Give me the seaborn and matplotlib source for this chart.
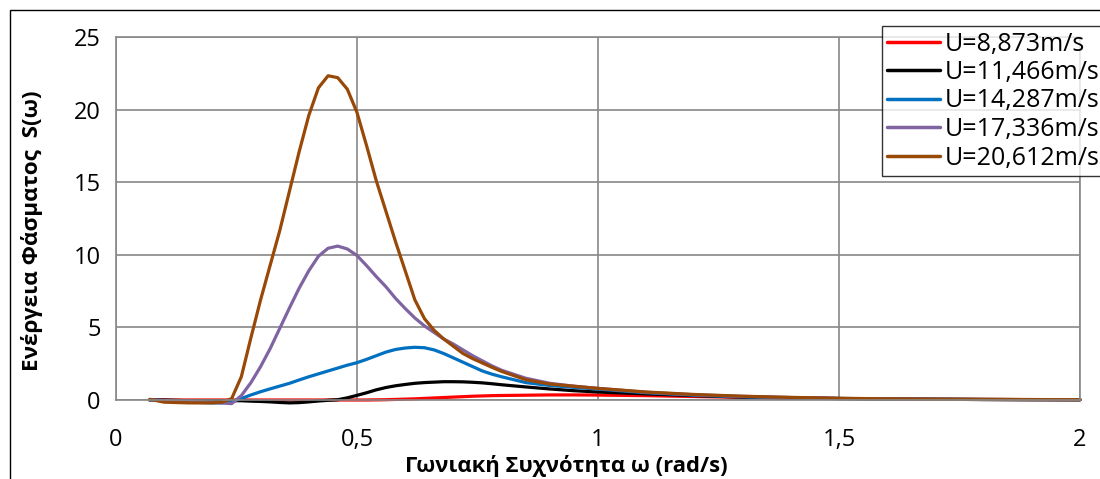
import numpy as np
import pandas as pd
import matplotlib
matplotlib.use("Agg")
import matplotlib.pyplot as plt
import matplotlib.patches as mpatches
import seaborn as sns

omega = [0.07, 0.10, 0.15, 0.20, 0.22,
         0.24, 0.26, 0.28, 0.30, 0.32, 0.34, 0.36, 0.38, 0.40, 0.42, 0.44, 0.46, 0.48, 0.50,
         0.52, 0.54, 0.56, 0.58, 0.60, 0.62, 0.64, 0.66, 0.68, 0.70, 0.72, 0.74, 0.76, 0.78, 0.80,
         0.85, 0.90, 0.95, 1.00, 1.10, 1.20, 1.30, 1.40, 1.50, 1.60, 1.70, 1.80, 1.90, 2.00]

s_8873 = [0.0, 0.0, 0.0, 0.0, 0.0,
          0.0, 0.0, 0.0, 0.0, 0.0, 0.0, 0.0, 0.0, 0.0, 0.0, 0.0, 0.0, 0.0, 0.0,
          0.0, 0.01, 0.02, 0.04, 0.06, 0.08, 0.11, 0.14, 0.17, 0.2, 0.23, 0.26, 0.28, 0.3, 0.31,
          0.33, 0.35, 0.35, 0.34, 0.3, 0.24, 0.18, 0.13, 0.1, 0.07, 0.05, 0.04, 0.03, 0.02]

s_11466 = [0.0, 0.0, -0.05, -0.05, -0.05,
           -0.05, -0.05, -0.08, -0.1, -0.13, -0.17, -0.2, -0.18, -0.13, -0.07, -0.02, 0.02, 0.15, 0.32,
           0.5, 0.7, 0.86, 0.98, 1.07, 1.15, 1.2, 1.23, 1.26, 1.26, 1.25, 1.22, 1.18, 1.12, 1.05,
           0.9, 0.76, 0.64, 0.55, 0.42, 0.3, 0.2, 0.14, 0.1, 0.07, 0.05, 0.035, 0.025, 0.02]

s_14287 = [0.0, -0.05, -0.15, -0.2, -0.2,
           -0.12, 0.1, 0.35, 0.57, 0.77, 0.96, 1.15, 1.38, 1.6, 1.8, 2.0, 2.2, 2.4, 2.57,
           2.8, 3.05, 3.3, 3.48, 3.58, 3.63, 3.6, 3.45, 3.2, 2.9, 2.6, 2.3, 2.0, 1.78, 1.6,
           1.2, 1.0, 0.87, 0.75, 0.5, 0.33, 0.22, 0.15, 0.1, 0.07, 0.05, 0.035, 0.025, 0.02]

s_17336 = [0.0, -0.05, -0.1, -0.15, -0.2,
           -0.25, 0.3, 1.2, 2.3, 3.55, 4.95, 6.35, 7.7, 8.9, 9.9, 10.45, 10.6, 10.4, 9.95,
           9.25, 8.5, 7.8, 7.0, 6.3, 5.65, 5.1, 4.65, 4.2, 3.85, 3.45, 3.05, 2.7, 2.35, 2.05,
           1.5, 1.15, 0.95, 0.8, 0.53, 0.36, 0.25, 0.17, 0.11, 0.07, 0.05, 0.035, 0.025, 0.02]

s_20612 = [0.05, -0.15, -0.2, -0.2, -0.15,
           0.1, 1.6, 4.3, 6.9, 9.3, 11.7, 14.4, 17.1, 19.6, 21.5, 22.33, 22.2, 21.4, 19.8,
           17.5, 15.1, 13.0, 10.9, 8.9, 6.9, 5.6, 4.8, 4.2, 3.7, 3.2, 2.85, 2.55, 2.25, 1.97,
           1.4, 1.1, 0.95, 0.8, 0.55, 0.38, 0.26, 0.18, 0.12, 0.08, 0.06, 0.04, 0.03, 0.02]

labels = ["U=8,873m/s", "U=11,466m/s", "U=14,287m/s", "U=17,336m/s", "U=20,612m/s"]
colors = ["#FF0000", "#000000", "#0070C0", "#8064A2", "#984807"]
series = [s_8873, s_11466, s_14287, s_17336, s_20612]

xticks = [0, 0.5, 1, 1.5, 2]
xticklabels = ["0", "0,5", "1", "1,5", "2"]
yticks = [0, 5, 10, 15, 20, 25]

sns.set_style("white")
plt.rcParams["font.family"] = ["Open Sans", "DejaVu Sans"]
plt.rcParams["text.color"] = "black"
plt.rcParams["axes.labelcolor"] = "black"

fig = plt.figure(figsize=(11, 4.79), dpi=100)
ax = fig.add_axes([116 / 1100, 1 - 400 / 479, 964 / 1100, 363 / 479])

for vals, lab, col in zip(series, labels, colors):
    df = pd.DataFrame({"omega": omega, "S": vals})
    sns.lineplot(data=df, x="omega", y="S", ax=ax, color=col, linewidth=2.3,
                 label=lab, sort=False)

for ln in ax.lines:
    ln.set_clip_on(False)

ax.set_xlim(0, 2)
ax.set_ylim(0, 25)
ax.set_xticks(xticks)
ax.set_xticklabels(xticklabels)
ax.set_yticks(yticks)
ax.grid(True, color="#888888", linewidth=1.2)
ax.set_axisbelow(True)
for sp in ax.spines.values():
    sp.set_color("#888888")
    sp.set_linewidth(1.2)
ax.tick_params(axis="both", length=0, labelsize=17, colors="black")
ax.tick_params(axis="x", pad=20)
ax.tick_params(axis="y", pad=11)

ax.set_xlabel("Γωνιακή Συχνότητα ω (rad/s)", fontsize=15.8, fontweight="bold",
              va="center", color="black")
ax.set_ylabel("Ενέργεια Φάσματος  S(ω)", fontsize=16.2, fontweight="bold",
              va="center", color="black")
ax.xaxis.set_label_coords(0.467, -0.182)
ax.yaxis.set_label_coords(-0.087, 0.466)

leg = ax.legend(loc="upper left", bbox_to_anchor=(882 / 1100, 1 - 26 / 479),
                bbox_transform=fig.transFigure, fontsize=18, frameon=True,
                fancybox=False, handlelength=2.1, handletextpad=0.2,
                labelspacing=0.14, borderpad=0.22, borderaxespad=0)
leg.get_frame().set_edgecolor("black")
leg.get_frame().set_linewidth(1.0)
for line in leg.get_lines():
    line.set_linewidth(2.5)
for t in leg.get_texts():
    t.set_color("black")

border = mpatches.Rectangle((10 / 1100, -0.5), 2, 0.5 + 1 - 10 / 479,
                            transform=fig.transFigure, fill=False,
                            edgecolor="black", linewidth=1.0, clip_on=False)
fig.patches.append(border)

fig.savefig("out.png", dpi=100)
